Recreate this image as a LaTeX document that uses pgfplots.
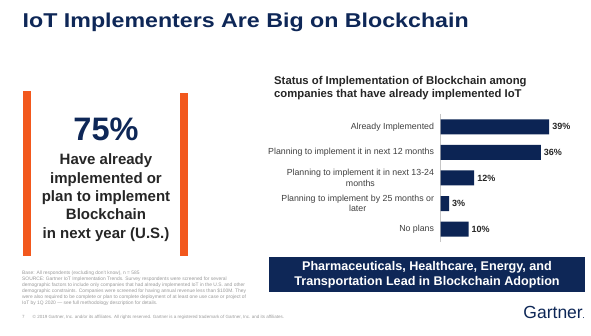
\documentclass[border=0pt]{standalone}
\usepackage{fontspec}
\setmainfont{Liberation Sans}
\usepackage{pgfplots}
\pgfplotsset{compat=1.18}
\definecolor{navy}{HTML}{0E2757}
\definecolor{barnavy}{HTML}{0C2454}
\definecolor{orng}{HTML}{F2581D}
\definecolor{txtgray}{HTML}{262626}
\definecolor{lblgray}{HTML}{404040}
\definecolor{footgray}{HTML}{9A9A9A}
\begin{document}
\begin{tikzpicture}[x=1pt,y=1pt]
\useasboundingbox (0,0) rectangle (591,336);
\fill[white] (0,0) rectangle (591,336);
% title
\node[anchor=base west, inner sep=0, text=navy, font=\fontsize{20}{22}\selectfont\bfseries] at (22.5,336-27.3) {\scalebox{1.16}[1]{IoT Implementers Are Big on Blockchain}};
% orange bars
\fill[orng] (22.5,336-91) rectangle (30.5,336-256);
\fill[orng] (180,336-93) rectangle (188,336-256);
% big number
\node[anchor=base, inner sep=0, text=navy, font=\fontsize{32.5}{36}\selectfont\bfseries] at (106,336-141) {75\%};
\foreach \t/\yy in {Have already/165, implemented or/183.3, plan to implement/201.6, Blockchain/219.9, in next year (U.S.)/238.2}{
  \node[anchor=base, inner sep=0, text=txtgray, font=\fontsize{15}{18}\selectfont\bfseries] at (106,336-\yy) {\t};
}
% chart subtitle
\node[anchor=base west, inner sep=0, font=\fontsize{11.3}{12.5}\selectfont\bfseries, text=txtgray] at (274,336-85) {Status of Implementation of Blockchain among};
\node[anchor=base west, inner sep=0, font=\fontsize{11.3}{12.5}\selectfont\bfseries, text=txtgray] at (274,336-97.5) {companies that have already implemented IoT};
% chart
\begin{axis}[
  at={(440.7pt,94pt)}, anchor=south west,
  scale only axis, width=139pt, height=128pt,
  xbar, bar width=15pt,
  xmin=0, xmax=50,
  ymin=-0.5, ymax=4.5, y dir=reverse,
  axis x line=none,
  axis y line=left,
  y axis line style={-, draw=gray!45, line width=0.6pt},
  ytick={0,1,2,3,4},
  yticklabels={Already Implemented, Planning to implement it in next 12 months, {Planning to implement it in next 13-24\\months}, {Planning to implement by 25 months or\\later}, No plans},
  major tick length=0pt,
  yticklabel style={align=center, font=\fontsize{8.8}{10.5}\selectfont, text=lblgray, inner xsep=6.5pt},
  /pgf/number format/assume math mode=true,
  nodes near coords={\pgfmathprintnumber{\pgfplotspointmeta}\%},
  every node near coord/.append style={anchor=west, font=\fontsize{9}{10}\selectfont\bfseries, text=txtgray, inner xsep=3pt},
  clip=false,
]
\addplot[fill=barnavy, draw=none] coordinates {(39,0) (36,1) (12,2) (3,3) (10,4)};
\end{axis}
% bottom box
\fill[navy] (269,336-257.3) rectangle (585,336-292.5);
\node[anchor=base, inner sep=0, text=white, font=\fontsize{12.6}{14}\selectfont\bfseries] at (427,336-271) {Pharmaceuticals, Healthcare, Energy, and};
\node[anchor=base, inner sep=0, text=white, font=\fontsize{12.6}{14}\selectfont\bfseries] at (427,336-286) {Transportation Lead in Blockchain Adoption};
% Gartner
\node[anchor=base east, inner sep=0, text=navy, font=\fontsize{17.5}{20}\selectfont] at (585,336-319) {Gartner\kern-0.5pt{\fontsize{9}{10}\selectfont.}};
% footnote
\node[anchor=north west, inner sep=0, text=footgray, align=left, font=\fontsize{4.9}{6.1}\selectfont] at (22,336-270.5) {Base: All respondents (excluding don't know), n = 585\\
SOURCE: Gartner IoT Implementation Trends. Survey respondents were screened for several\\
demographic factors to include only companies that had already implemented IoT in the U.S. and other\\
demographic constraints. Companies were screened for having annual revenue less than \$100M. They\\
were also required to be complete or plan to complete deployment of at least one use case or project of\\
IoT by 1Q 2020 --- see full methodology description for details.};
\node[anchor=base west, inner sep=0, text=footgray, font=\fontsize{4.5}{5}\selectfont] at (22,336-318.5) {7\hspace{8pt}\textcopyright\ 2019 Gartner, Inc. and/or its affiliates. All rights reserved. Gartner is a registered trademark of Gartner, Inc. and its affiliates.};
\end{tikzpicture}
\end{document}
